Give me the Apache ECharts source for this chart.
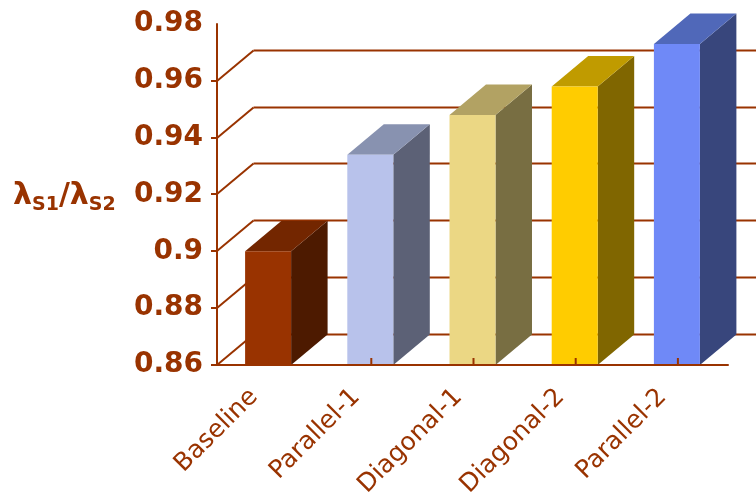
<!DOCTYPE html>
<html>
<head>
<meta charset="utf-8">
<script src="https://cdn.jsdelivr.net/npm/echarts@6/dist/echarts.min.js"></script>
<style>
  html, body { margin: 0; padding: 0; background: #fff; }
  #chart { width: 756px; height: 495px; }
</style>
</head>
<body>
<div id="chart"></div>
<script>
const categories = ['Baseline', 'Parallel-1', 'Diagonal-1', 'Diagonal-2', 'Parallel-2']
const ratios = [0.900, 0.934, 0.948, 0.958, 0.973]
const yTicks = [0.86, 0.88, 0.90, 0.92, 0.94, 0.96]

const BROWN = '#993300'
const frontColors = ['#993300', '#b8c2eb', '#ebd784', '#ffcc00', '#6f89f7']
const sideColors = ['#4d1a00', '#5c6176', '#786e42', '#806600', '#38467c']
const topColors = ['#732600', '#8892b0', '#b2a263', '#c09b00', '#5068b9']
// depth offset of the 3d box (px)
const DX = 36.5, DY = -30.5

const chart = echarts.init(document.getElementById('chart'))

// back wall grid lines, left wall diagonals and the y ticks
function renderWall (params, api) {
  const cs = params.coordSys
  const y = Math.round(api.coord([0, api.value(1)])[1])
  const lineStyle = { stroke: BROWN, lineWidth: 2 }
  return {
    type: 'group',
    children: [
      { type: 'line', shape: { x1: cs.x - 6, y1: y, x2: cs.x, y2: y }, style: lineStyle },
      { type: 'line', shape: { x1: cs.x, y1: y, x2: cs.x + DX, y2: y + DY }, style: lineStyle },
      { type: 'line', shape: { x1: cs.x + DX, y1: y + DY, x2: cs.x + cs.width + DX, y2: y + DY }, style: lineStyle }
    ]
  }
}

function renderBar (params, api) {
  const i = api.value(0)
  const top = api.coord([i, api.value(1)])
  const base = api.coord([i, yTicks[0]])
  const w = api.size([1, 0])[0] * 0.45
  const x0 = top[0] - w / 2, x1 = top[0] + w / 2
  const yt = top[1], yb = base[1]
  return {
    type: 'group',
    children: [
      { type: 'polygon', shape: { points: [[x1, yb], [x1 + DX, yb + DY], [x1 + DX, yt + DY], [x1, yt]] }, style: { fill: sideColors[i] } },
      { type: 'polygon', shape: { points: [[x0, yt], [x1, yt], [x1 + DX, yt + DY], [x0 + DX, yt + DY]] }, style: { fill: topColors[i] } },
      { type: 'rect', shape: { x: x0, y: yt, width: w, height: yb - yt }, style: { fill: frontColors[i] } },
      { type: 'line', shape: { x1: top[0] + 1, y1: yb, x2: top[0] + 1, y2: yb - 7 }, style: { stroke: BROWN, lineWidth: 2 } }
    ]
  }
}

const option = {
  animation: false,
  grid: { left: 217, right: 28, top: 24, bottom: 130, outerBoundsMode: 'none', containLabel: false },
  xAxis: {
    type: 'category',
    data: categories,
    z: 5,
    axisLine: { lineStyle: { color: BROWN, width: 2 } },
    axisTick: { length: 7, lineStyle: { color: BROWN, width: 2 } },
    axisLabel: {
      interval: 0,
      rotate: 45,
      margin: 14,
      padding: [0, 20, 0, 0],
      color: BROWN,
      fontFamily: 'DejaVu Sans',
      fontSize: 25
    }
  },
  yAxis: {
    type: 'value',
    min: 0.86,
    max: 0.98,
    interval: 0.02,
    z: 5,
    splitLine: { show: false },
    axisLine: { show: true, lineStyle: { color: BROWN, width: 2 } },
    axisTick: { show: false },
    axisLabel: {
      margin: 14,
      color: BROWN,
      fontFamily: 'DejaVu Sans',
      fontWeight: 'bold',
      fontSize: 28
    }
  },
  graphic: [{
    type: 'text',
    left: 13,
    top: 181,
    style: {
      text: '{l|λ}{s|S1}{l|/λ}{s|S2}',
      fill: BROWN,
      rich: {
        l: { fontFamily: 'DejaVu Sans', fontWeight: 'bold', fontSize: 30, lineHeight: 38, verticalAlign: 'middle', fill: BROWN },
        s: { fontFamily: 'DejaVu Sans', fontWeight: 'bold', fontSize: 19, verticalAlign: 'bottom', fill: BROWN }
      }
    }
  }],
  series: [
    {
      type: 'custom',
      z: 1,
      clip: false,
      renderItem: renderWall,
      encode: { x: 0, y: 1 },
      data: yTicks.map(v => [0, v])
    },
    {
      type: 'custom',
      z: 3,
      clip: false,
      renderItem: renderBar,
      encode: { x: 0, y: 1 },
      data: ratios.map((v, i) => [i, v])
    }
  ]
}

chart.setOption(option)
</script>
</body>
</html>
